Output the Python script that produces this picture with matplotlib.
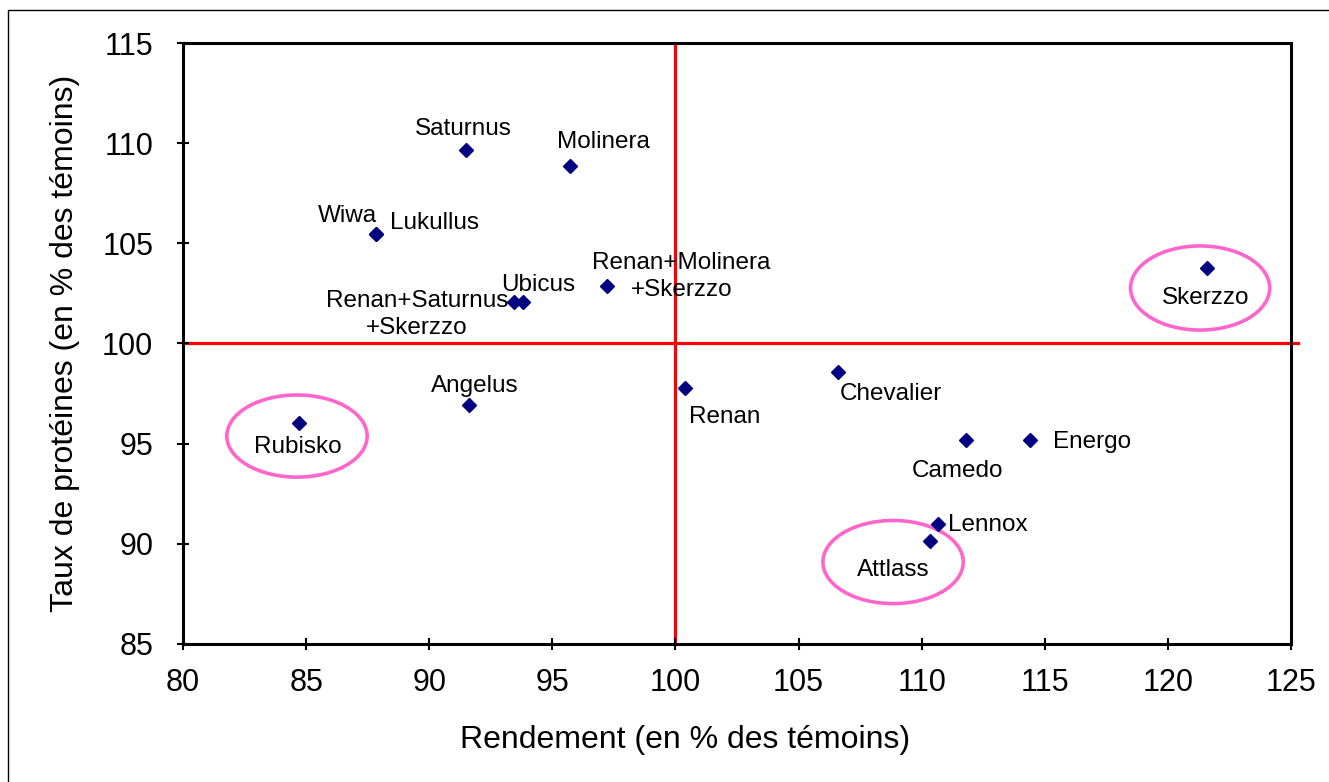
import matplotlib
matplotlib.use("Agg")
import matplotlib.pyplot as plt
from matplotlib.patches import Ellipse, Rectangle

plt.rcParams['font.family'] = ['Liberation Sans', 'DejaVu Sans']

# data
names = ["Saturnus", "Molinera", "Wiwa", "Lukullus", "Renan+Saturnus\n+Skerzzo",
         "Ubicus", "Renan+Molinera\n+Skerzzo", "Angelus", "Rubisko", "Renan",
         "Chevalier", "Camedo", "Energo", "Lennox", "Attlass", "Skerzzo"]
rendement = [91.5, 95.7, 87.85, 87.85, 93.45, 93.8, 97.2, 91.6, 84.7, 100.4,
             106.6, 111.8, 114.4, 110.65, 110.35, 121.6]
proteines = [109.65, 108.85, 105.45, 105.45, 102.05, 102.05, 102.85, 96.95, 96.05, 97.8,
             98.6, 95.2, 95.2, 91.0, 90.15, 103.75]

# label offsets (pixels) and alignment
offsets = [(-3, 21), (34, 24), (-29, 18), (14, 11), (-97, -12),
           (15, 17), (75, 10), (6, 19), (-1, -24), (39, -29),
           (53, -22), (-8, -31), (23, -2), (10, -1), (-37, -29), (-2, -30)]
aligns = ["center", "center", "center", "left", "center",
          "center", "center", "center", "center", "center",
          "center", "center", "left", "left", "center", "center"]

# highlighted varieties: center x, center y, width, height
circled_x = [84.63, 108.84, 121.31]
circled_y = [95.38, 89.09, 102.77]
circled_w = [5.7, 5.7, 5.65]
circled_h = [4.1, 4.15, 4.2]

xticks = [80, 85, 90, 95, 100, 105, 110, 115, 120, 125]
yticks = [85, 90, 95, 100, 105, 110, 115]

fig = plt.figure(figsize=(13.29, 7.82), dpi=100)
ax = fig.add_axes([0.1377, 0.1765, 0.8337, 0.7685])

ax.axvline(100, color="#FF0000", lw=2.3, zorder=1)
ax.axhline(100, xmax=1.006, color="#FF0000", lw=2.3, zorder=1, clip_on=False)

ax.plot(rendement, proteines, linestyle="none", marker="D", markersize=7.5,
        color="#000080", zorder=3)

for n, xv, yv, off, ha in zip(names, rendement, proteines, offsets, aligns):
    ax.annotate(n, (xv, yv), xytext=off, textcoords="offset pixels",
                ha=ha, va="center", multialignment="center",
                fontsize=17.5, linespacing=1.3)

for cx, cy, w, h in zip(circled_x, circled_y, circled_w, circled_h):
    ax.add_patch(Ellipse((cx, cy), w, h, fill=False, edgecolor="#FF66CC",
                         lw=2.6, zorder=2))

ax.set_xlim(80, 125)
ax.set_ylim(85, 115)
ax.set_xticks(xticks)
ax.set_yticks(yticks)
ax.tick_params(direction="inout", length=9, width=1.5, labelsize=22)
ax.tick_params(axis="y", pad=17)
ax.tick_params(axis="x", pad=13)
for s in ax.spines.values():
    s.set_linewidth(2.2)

ax.set_xlabel("Rendement (en % des témoins)", fontsize=23, va="center")
ax.set_ylabel("Taux de protéines (en % des témoins)", fontsize=23, va="center")
ax.xaxis.set_label_coords(0.453, -0.16)
ax.yaxis.set_label_coords(-0.1065, 0.5)

# thin frame around the whole picture
fig.add_artist(Rectangle((0.006, -0.1), 1.2, 1.087, transform=fig.transFigure,
                         fill=False, edgecolor="black", lw=1))

fig.savefig("out.png", dpi=100)
